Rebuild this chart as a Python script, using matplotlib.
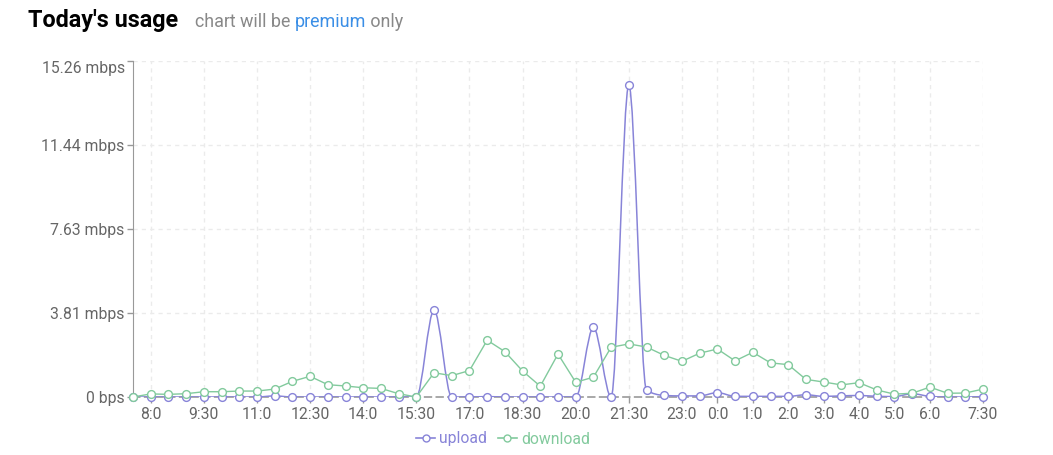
import matplotlib
matplotlib.use("Agg")
import matplotlib.pyplot as plt
from matplotlib.path import Path
from matplotlib.patches import PathPatch
from matplotlib.lines import Line2D
import numpy as np

plt.rcParams['font.family'] = ['Roboto', 'DejaVu Sans']

# half-hour slots from 7:30 to 7:30 next day
times = ["7:30", "8:0", "8:30", "9:0", "9:30", "10:0", "10:30", "11:0", "11:30",
         "12:0", "12:30", "13:0", "13:30", "14:0", "14:30", "15:0", "15:30",
         "16:0", "16:30", "17:0", "17:30", "18:0", "18:30", "19:0", "19:30",
         "20:0", "20:30", "21:0", "21:30", "22:0", "22:30", "23:0", "23:30",
         "0:0", "0:30", "1:0", "1:30", "2:0", "2:30", "3:0", "3:30", "4:0",
         "4:30", "5:0", "5:30", "6:0", "6:30", "7:0", "7:30"]

upload = [0, 0, 0, 0, 0, 0, 0, 0, 0.05, 0, 0, 0, 0, 0, 0, 0, 0,
          3.95, 0, 0, 0.02, 0, 0, 0, 0, 0, 3.16, 0, 14.17, 0.3, 0.07, 0.05,
          0.05, 0.2, 0.03, 0.03, 0.03, 0.03, 0.1, 0.03, 0.05, 0.07, 0.03,
          0.02, 0.15, 0.03, 0, 0, 0.02]

download = [0, 0.14, 0.12, 0.15, 0.24, 0.24, 0.27, 0.27, 0.36, 0.71, 0.94,
            0.56, 0.5, 0.42, 0.39, 0.15, 0, 1.1, 0.97, 1.2, 2.58, 2.06, 1.18,
            0.49, 1.95, 0.67, 0.9, 2.26, 2.41, 2.27, 1.89, 1.62, 1.99, 2.18,
            1.64, 2.03, 1.55, 1.47, 0.80, 0.68, 0.55, 0.65, 0.32, 0.13, 0.17,
            0.45, 0.17, 0.18, 0.36]

tick_labels = ["8:0", "9:30", "11:0", "12:30", "14:0", "15:30", "17:0", "18:30",
               "20:0", "21:30", "23:0", "0:0", "1:0", "2:0", "3:0", "4:0",
               "5:0", "6:0", "7:30"]

y_ticks = [0, 3.815, 7.63, 11.445, 15.26]
y_labels = ["0 bps", "3.81 mbps", "7.63 mbps", "11.44 mbps", "15.26 mbps"]

c_up = '#8884d8'
c_down = '#82ca9d'


def monotone_path(x, y):
    # same idea as d3 curveMonotoneX
    x = np.asarray(x, float)
    y = np.asarray(y, float)
    n = len(x)
    h = np.diff(x)
    s = np.diff(y) / h
    t = np.zeros(n)
    for i in range(1, n - 1):
        s0, s1 = s[i - 1], s[i]
        p = (s0 * h[i] + s1 * h[i - 1]) / (h[i - 1] + h[i])
        t[i] = (np.sign(s0) + np.sign(s1)) * min(abs(s0), abs(s1), 0.5 * abs(p))
    t[0] = (3 * s[0] - t[1]) / 2
    t[-1] = (3 * s[-1] - t[-2]) / 2
    verts = [(x[0], y[0])]
    codes = [Path.MOVETO]
    for i in range(n - 1):
        dx = h[i] / 3
        verts += [(x[i] + dx, y[i] + dx * t[i]),
                  (x[i + 1] - dx, y[i + 1] - dx * t[i + 1]),
                  (x[i + 1], y[i + 1])]
        codes += [Path.CURVE4] * 3
    return Path(verts, codes)


fig = plt.figure(figsize=(10.53, 4.55), dpi=100)
ax = fig.add_axes([133 / 1053, 1 - 397 / 455, 850 / 1053, 336 / 455])

xs = np.arange(len(times))
tick_pos = [times.index(lbl) if lbl != "7:30" else len(times) - 1 for lbl in tick_labels]

ax.add_patch(PathPatch(monotone_path(xs, upload), facecolor='none',
                       edgecolor=c_up, lw=1.1, zorder=3))
ax.plot(xs, upload, ls='none', marker='o', ms=5.6, mfc='white', mec=c_up,
        mew=1.0, zorder=4, clip_on=False)
ax.plot(xs, download, color=c_down, lw=1.0, marker='o', ms=5.6, mfc='white',
        mec=c_down, mew=1.0, zorder=5, clip_on=False)

ax.set_xlim(0, len(times) - 1)
ax.set_ylim(0, 15.26)
ax.set_xticks(tick_pos)
ax.set_xticklabels(tick_labels)
ax.set_yticks(y_ticks)
ax.set_yticklabels(y_labels)
ax.yaxis.get_ticklabels()[-1].set_va('top')

for t in tick_pos:
    ax.axvline(t, color='#ebebeb', lw=1, ls=(0, (3, 3)), zorder=0)
for v in y_ticks[1:]:
    ax.axhline(v, color='#ebebeb', lw=1, ls=(0, (3, 3)), zorder=0)

for side in ['top', 'right']:
    ax.spines[side].set_visible(False)
ax.spines['left'].set_color('#999999')
ax.spines['bottom'].set_color('#999999')
ax.spines['bottom'].set_linestyle((0, (4, 3)))
ax.spines['bottom'].set_linewidth(1.2)
ax.tick_params(axis='both', colors='#999999', labelcolor='#666666',
               labelsize=11.3, length=4.5, width=1)
ax.tick_params(axis='x', pad=2.5)
ax.tick_params(axis='y', pad=1.5)

handles = [Line2D([], [], color=c_up, lw=1.2, marker='o', ms=5, mfc='white', mec=c_up),
           Line2D([], [], color=c_down, lw=1.2, marker='o', ms=5, mfc='white', mec=c_down)]
leg = fig.legend(handles, ['upload', 'download'], loc='center',
                 bbox_to_anchor=(503 / 1053, 1 - 439 / 455), ncol=2, frameon=False,
                 fontsize=11.3, handlelength=1.2, handletextpad=0.25,
                 columnspacing=0.7)
for txt, c in zip(leg.get_texts(), [c_up, c_down]):
    txt.set_color(c)

# header
fig.canvas.draw()
r = fig.canvas.get_renderer()
base_y = 1 - 27 / 455
t1 = fig.text(28 / 1053, base_y, "Today's usage", fontsize=16.8, fontweight='bold',
              color='black', va='baseline')
parts = [("chart will be ", '#888888'), ("premium", '#3a8ee6'), (" only", '#888888')]
x = 195 / 1053
for s, c in parts:
    t = fig.text(x, base_y, s, fontsize=12.9, color=c, va='baseline')
    bb = t.get_window_extent(renderer=r)
    x = bb.x1 / fig.bbox.width

fig.savefig('out.png', dpi=100)
